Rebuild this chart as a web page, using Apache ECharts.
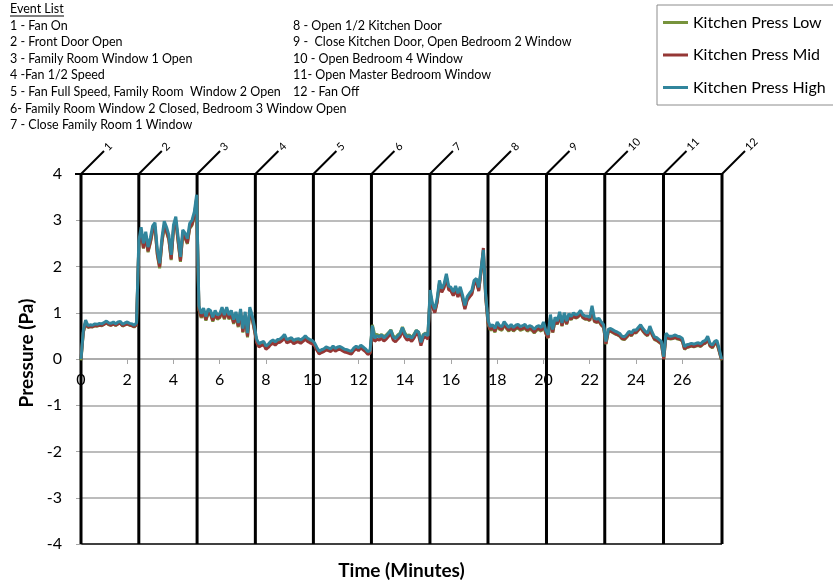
<!DOCTYPE html>
<html><head><meta charset="utf-8">
<script src="https://cdn.jsdelivr.net/npm/echarts@6/dist/echarts.min.js"></script>
<style>html,body{margin:0;padding:0;background:#fff}#c{width:833px;height:586px}</style>
</head><body><div id="c"></div>
<script>
// ---- data ----
const seriesNames = ['Kitchen Press Low', 'Kitchen Press Mid', 'Kitchen Press High'];
const seriesColors = ['#77933C', '#953735', '#31859C'];
const dt = 0.1; // minutes between samples
const pressHigh = [
0.00,0.62,0.84,0.72,0.74,0.73,0.76,0.75,0.77,0.76,0.79,0.82,0.78,0.77,0.80,0.76,0.80,0.81,0.75,0.78,0.80,0.77,0.76,0.73,0.78,
2.55,2.85,2.50,2.75,2.42,2.62,2.88,2.95,2.36,2.07,2.62,2.98,2.85,2.68,2.25,2.90,3.08,2.64,2.21,2.79,2.72,2.60,2.93,3.00,3.18,3.55,
1.15,0.98,1.10,0.92,1.08,1.05,0.90,1.05,0.95,0.98,1.12,0.95,1.12,0.95,1.05,0.85,1.02,0.78,1.08,0.66,1.02,0.56,1.12,0.95,0.70,
0.42,0.33,0.36,0.38,0.28,0.32,0.38,0.41,0.37,0.42,0.43,0.47,0.53,0.42,0.44,0.46,0.40,0.43,0.44,0.41,0.45,0.50,0.45,0.42,0.40,
0.35,0.25,0.17,0.20,0.22,0.26,0.24,0.22,0.28,0.23,0.26,0.27,0.24,0.21,0.20,0.18,0.17,0.24,0.28,0.24,0.30,0.26,0.22,0.16,0.18,
0.72,0.45,0.50,0.48,0.52,0.46,0.50,0.56,0.62,0.48,0.44,0.50,0.55,0.68,0.55,0.48,0.50,0.45,0.52,0.62,0.58,0.36,0.52,0.55,0.50,
1.49,1.20,1.08,1.30,1.70,1.52,1.62,1.84,1.58,1.55,1.45,1.58,1.42,1.56,1.38,1.16,1.35,1.42,1.48,1.70,1.74,1.55,1.95,2.36,1.40,
0.84,0.70,0.74,0.66,0.80,0.72,0.70,0.81,0.74,0.68,0.75,0.68,0.73,0.75,0.70,0.72,0.75,0.68,0.72,0.70,0.64,0.70,0.72,0.68,0.80,
0.62,0.52,0.96,0.64,0.90,0.82,1.02,0.78,1.00,0.82,0.98,0.92,1.00,0.95,0.98,1.05,0.96,0.93,0.93,0.90,1.15,0.88,0.86,0.88,0.80,
0.74,0.38,0.64,0.66,0.63,0.60,0.58,0.55,0.49,0.48,0.53,0.60,0.56,0.63,0.62,0.68,0.74,0.66,0.60,0.56,0.71,0.58,0.48,0.46,0.42,
0.38,0.05,0.56,0.50,0.49,0.50,0.52,0.49,0.48,0.45,0.27,0.31,0.32,0.34,0.32,0.34,0.35,0.33,0.38,0.40,0.49,0.34,0.30,0.38,0.40,0.22,0.00
];
const pressMid = [
0.00,0.58,0.80,0.69,0.70,0.70,0.72,0.72,0.73,0.73,0.75,0.78,0.75,0.73,0.76,0.73,0.76,0.77,0.72,0.74,0.76,0.74,0.72,0.70,0.74,
2.46,2.76,2.40,2.66,2.33,2.53,2.79,2.86,2.27,1.99,2.53,2.89,2.76,2.59,2.16,2.81,2.99,2.55,2.12,2.70,2.63,2.51,2.84,2.91,3.09,3.48,
1.08,0.91,1.03,0.85,1.01,0.98,0.83,0.98,0.88,0.91,1.05,0.88,1.05,0.88,0.98,0.78,0.95,0.71,1.01,0.59,0.95,0.49,1.05,0.88,0.63,
0.35,0.26,0.29,0.31,0.21,0.25,0.31,0.34,0.30,0.35,0.36,0.40,0.46,0.35,0.37,0.39,0.33,0.36,0.37,0.34,0.38,0.43,0.38,0.35,0.33,
0.29,0.19,0.11,0.14,0.16,0.20,0.18,0.16,0.22,0.17,0.20,0.21,0.18,0.15,0.14,0.12,0.11,0.18,0.22,0.18,0.24,0.20,0.16,0.10,0.12,
0.65,0.38,0.43,0.41,0.45,0.39,0.43,0.49,0.55,0.41,0.37,0.43,0.48,0.61,0.48,0.41,0.43,0.38,0.45,0.55,0.51,0.29,0.45,0.48,0.43,
1.41,1.12,1.00,1.22,1.62,1.44,1.54,1.76,1.50,1.47,1.37,1.50,1.34,1.48,1.30,1.08,1.27,1.34,1.40,1.62,1.66,1.47,1.89,2.40,1.33,
0.78,0.64,0.68,0.60,0.74,0.66,0.64,0.75,0.68,0.62,0.69,0.62,0.67,0.69,0.64,0.66,0.69,0.62,0.66,0.64,0.58,0.64,0.66,0.62,0.74,
0.56,0.46,0.90,0.58,0.84,0.76,0.96,0.72,0.94,0.76,0.92,0.86,0.94,0.89,0.92,0.99,0.90,0.87,0.87,0.84,1.09,0.82,0.80,0.82,0.74,
0.69,0.33,0.59,0.61,0.58,0.55,0.53,0.50,0.44,0.43,0.48,0.55,0.51,0.58,0.57,0.63,0.69,0.61,0.55,0.51,0.66,0.53,0.43,0.41,0.37,
0.33,0.00,0.51,0.45,0.44,0.45,0.47,0.44,0.43,0.40,0.22,0.26,0.27,0.29,0.27,0.29,0.30,0.28,0.33,0.35,0.44,0.29,0.25,0.33,0.35,0.17,-0.02
];
const pressLow = [
-0.03,0.57,0.79,0.68,0.70,0.69,0.72,0.71,0.73,0.72,0.75,0.78,0.74,0.73,0.76,0.72,0.76,0.77,0.71,0.74,0.76,0.73,0.72,0.69,0.74,
2.44,2.74,2.39,2.64,2.31,2.51,2.77,2.84,2.25,1.96,2.51,2.87,2.74,2.57,2.14,2.79,2.97,2.53,2.10,2.68,2.61,2.49,2.82,2.89,3.07,3.45,
1.06,0.89,1.01,0.83,0.99,0.96,0.81,0.96,0.86,0.89,1.03,0.86,1.03,0.86,0.96,0.76,0.93,0.69,0.99,0.57,0.93,0.47,1.03,0.86,0.61,
0.38,0.29,0.32,0.34,0.24,0.28,0.34,0.37,0.33,0.38,0.39,0.43,0.49,0.38,0.40,0.42,0.36,0.39,0.40,0.37,0.41,0.46,0.41,0.38,0.36,
0.31,0.21,0.13,0.16,0.18,0.22,0.20,0.18,0.24,0.19,0.22,0.23,0.20,0.17,0.16,0.14,0.13,0.20,0.24,0.20,0.26,0.22,0.18,0.12,0.14,
0.74,0.52,0.53,0.50,0.53,0.48,0.52,0.57,0.63,0.50,0.46,0.52,0.56,0.69,0.57,0.50,0.52,0.46,0.53,0.62,0.58,0.38,0.53,0.56,0.51,
1.43,1.14,1.02,1.24,1.64,1.46,1.56,1.78,1.52,1.49,1.39,1.52,1.36,1.50,1.32,1.10,1.29,1.36,1.42,1.64,1.68,1.49,1.89,2.30,1.35,
0.76,0.62,0.66,0.58,0.72,0.64,0.62,0.73,0.66,0.60,0.67,0.60,0.65,0.67,0.62,0.64,0.67,0.60,0.64,0.62,0.56,0.62,0.64,0.60,0.72,
0.55,0.45,0.89,0.57,0.83,0.75,0.95,0.71,0.93,0.75,0.91,0.85,0.93,0.88,0.91,0.98,0.89,0.86,0.86,0.83,1.08,0.81,0.79,0.81,0.73,
0.68,0.32,0.58,0.60,0.57,0.54,0.52,0.49,0.43,0.42,0.47,0.54,0.50,0.57,0.56,0.62,0.68,0.60,0.54,0.50,0.65,0.52,0.42,0.40,0.36,
0.32,0.00,0.50,0.44,0.43,0.44,0.46,0.43,0.42,0.39,0.21,0.25,0.26,0.28,0.26,0.28,0.29,0.27,0.32,0.34,0.43,0.28,0.24,0.32,0.34,0.16,-0.03
];
const eventTimes = [0, 2.50, 5.02, 7.54, 10.05, 12.56, 15.09, 17.60, 20.13, 22.65, 25.19, 27.72];
const eventLabels = ['1','2','3','4','5','6','7','8','9','10','11','12'];
const eventListCol1 = ['1 - Fan On','2 - Front Door Open','3 - Family Room Window 1 Open','4 -Fan 1/2 Speed','5 - Fan Full Speed, Family Room  Window 2 Open','6- Family Room Window 2 Closed, Bedroom 3 Window Open','7 - Close Family Room 1 Window'];
const eventListCol2 = ['8 - Open 1/2 Kitchen Door','9 -  Close Kitchen Door, Open Bedroom 2 Window','10 - Open Bedroom 4 Window','11- Open Master Bedroom Window','12 - Fan Off'];
const xMin = 0, xMax = 27.72, xInterval = 2;
const yMin = -4, yMax = 4, yInterval = 1;
const xAxisCrossValue = 0; // x axis crosses the y axis at 0
const yTitle = 'Pressure (Pa)';
const xTitle = 'Time (Minutes)';

// ---- chart ----
const FONT = 'Lato, "Open Sans", sans-serif';
const CW = 833, CH = 586;
const GRID = {left: 81, right: 111, top: 174, bottom: 42};
const gridH = CH - GRID.top - GRID.bottom;
const gridCx = GRID.left + (CW - GRID.left - GRID.right) / 2;
// move the x axis up from the bottom of the grid to the y = 0 line
const xAxisOffset = -gridH * (xAxisCrossValue - yMin) / (yMax - yMin);
const toPairs = arr => arr.map((v, i) => [+(i * dt).toFixed(2), v]);
const chart = echarts.init(document.getElementById('c'), null, {renderer: 'canvas'});

const LIST_FONT = '12.5px ' + FONT;
const graphic = [];
graphic.push({type: 'text', left: 10, top: 2, style: {text: 'Event List', font: LIST_FONT, fill: '#000'}});
graphic.push({type: 'line', shape: {x1: 10, y1: 16, x2: 64, y2: 16}, style: {stroke: '#000', lineWidth: 1}});
eventListCol1.forEach((s, i) => graphic.push({type: 'text', left: 10, top: 19 + i * 16.6, style: {text: s, font: LIST_FONT, fill: '#000'}}));
eventListCol2.forEach((s, i) => graphic.push({type: 'text', left: 293, top: 19 + i * 16.6, style: {text: s, font: LIST_FONT, fill: '#000'}}));
graphic.push({type: 'text', x: gridCx, y: 571, style: {text: xTitle, font: 'bold 19px ' + FONT, fill: '#000', align: 'center', verticalAlign: 'middle'}});

const splitColors = [];
for (let v = yMin; v <= yMax; v += yInterval) splitColors.push((v === yMin || v === yMax) ? '#000' : '#a6a6a6');

const option = {
  animation: false,
  backgroundColor: '#fff',
  textStyle: {fontFamily: FONT},
  grid: Object.assign({containLabel: false}, GRID),
  legend: {
    orient: 'vertical', left: 657, top: 5,
    padding: [8, 8, 8, 6], itemGap: 13.5,
    itemWidth: 25, itemHeight: 3, icon: 'rect',
    borderColor: '#8c8c8c', borderWidth: 1,
    textStyle: {fontSize: 16, color: '#000', fontFamily: FONT, lineHeight: 19},
    data: seriesNames
  },
  xAxis: {
    type: 'value', min: xMin, max: xMax, interval: xInterval,
    position: 'bottom', offset: xAxisOffset,
    axisLine: {onZero: false, lineStyle: {color: '#a6a6a6', width: 1.5}},
    axisTick: {show: true, inside: false, length: 5, lineStyle: {color: '#a6a6a6'}},
    axisLabel: {
      margin: 13, fontSize: 16, color: '#000', fontFamily: FONT, showMaxLabel: false,
      formatter: v => (Math.abs(v - Math.round(v)) < 1e-6 && Math.round(v) % 2 === 0) ? String(Math.round(v)) : ''
    },
    splitLine: {show: false}
  },
  yAxis: {
    type: 'value', min: yMin, max: yMax, interval: yInterval,
    name: yTitle, nameLocation: 'middle', nameGap: 34,
    nameTextStyle: {fontSize: 19, fontWeight: 'bold', color: '#000', fontFamily: FONT, padding: [0, 0, 0, 12]},
    axisLine: {show: true, onZero: false, lineStyle: {color: '#a6a6a6', width: 1}},
    axisTick: {show: true, length: 5, lineStyle: {color: '#a6a6a6'}},
    axisLabel: {margin: 19, fontSize: 16, color: '#000', fontFamily: FONT},
    splitLine: {show: true, lineStyle: {color: splitColors, width: 1.5}}
  },
  graphic: graphic,
  series: [
    {name: seriesNames[0], type: 'line', data: toPairs(pressLow), symbol: 'none', z: 3,
     lineStyle: {color: seriesColors[0], width: 3}, itemStyle: {color: seriesColors[0]}},
    {name: seriesNames[1], type: 'line', data: toPairs(pressMid), symbol: 'none', z: 4,
     lineStyle: {color: seriesColors[1], width: 3}, itemStyle: {color: seriesColors[1]}},
    {name: seriesNames[2], type: 'line', data: toPairs(pressHigh), symbol: 'none', z: 5,
     lineStyle: {color: seriesColors[2], width: 3}, itemStyle: {color: seriesColors[2]}},
    {
      type: 'custom', z: 2, clip: false, silent: true,
      data: eventTimes.map((t, i) => [t, 0, i]),
      encode: {x: 0, y: 1},
      renderItem: (params, api) => {
        const i = api.value(2);
        const t = api.value(0);
        const top = api.coord([t, yMax]);
        const bot = api.coord([t, yMin]);
        const children = [
          {type: 'line', shape: {x1: top[0], y1: top[1], x2: bot[0], y2: bot[1]}, style: {stroke: '#000', lineWidth: 3}},
          {type: 'line', shape: {x1: top[0], y1: top[1], x2: top[0] + 23, y2: top[1] - 23}, style: {stroke: '#000', lineWidth: 2}},
          {type: 'text', x: top[0] + 25, y: top[1] - 25, rotation: Math.PI / 4,
           style: {text: eventLabels[i], font: '11px ' + FONT, fill: '#000', align: 'left', verticalAlign: 'middle'}}
        ];
        if (i > 0) {
          const prev = api.coord([eventTimes[i - 1], yMax]);
          children.push({type: 'line', shape: {x1: prev[0], y1: prev[1], x2: top[0], y2: top[1]}, style: {stroke: '#000', lineWidth: 2}});
        } else {
          children.push({type: 'line', shape: {x1: top[0] - 6, y1: top[1], x2: top[0], y2: top[1]}, style: {stroke: '#000', lineWidth: 2}});
        }
        return {type: 'group', children};
      }
    }
  ]
};
chart.setOption(option);
</script>
</body></html>
